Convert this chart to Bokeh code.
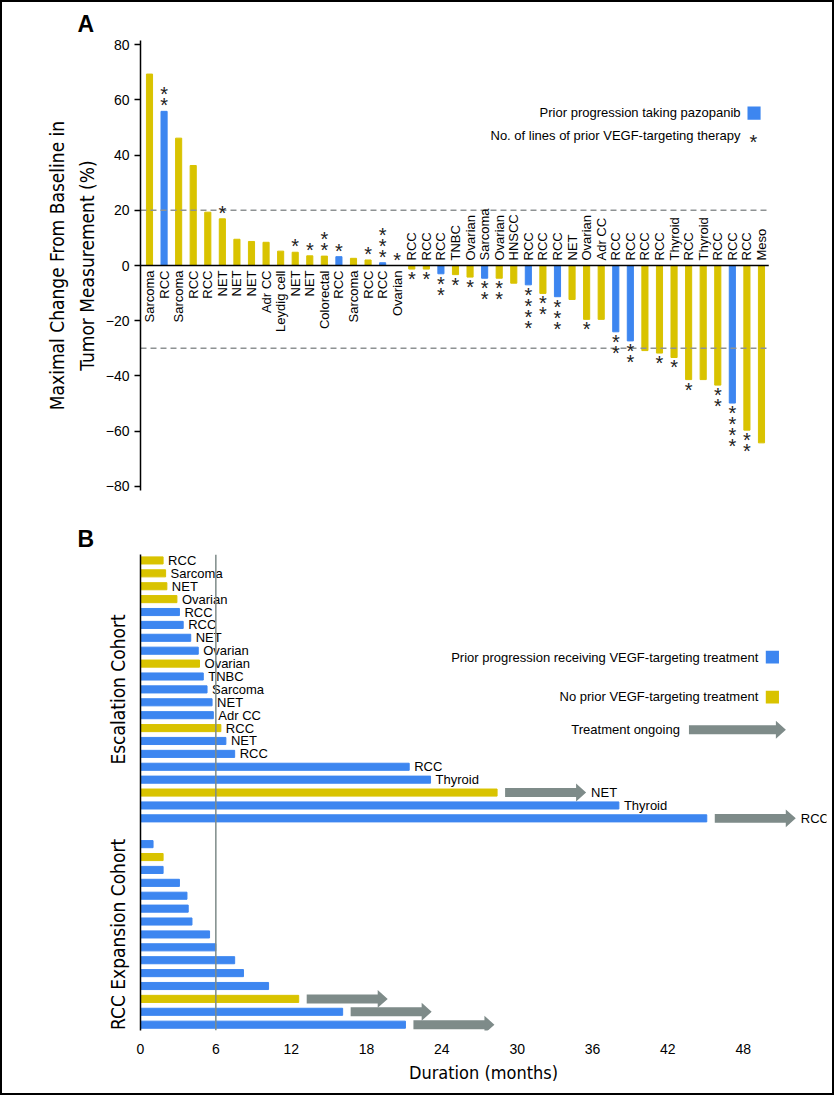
import math
from bokeh.plotting import figure
from bokeh.models import (ColumnDataSource, Range1d, Span, Label, BoxAnnotation,
                          PolyAnnotation, FixedTicker)
from bokeh.layouts import column
from bokeh.embed import file_html
from bokeh.resources import INLINE
from bokeh.core.properties import value

# ---------------- data: panel A ----------------
a_tumor = ["Sarcoma", "RCC", "Sarcoma", "RCC", "RCC", "NET", "NET", "NET", "Adr CC",
           "Leydig cell", "NET", "NET", "Colorectal", "RCC", "Sarcoma", "RCC", "RCC",
           "Ovarian", "RCC", "RCC", "RCC", "TNBC", "Ovarian", "Sarcoma", "Ovarian",
           "HNSCC", "RCC", "RCC", "RCC", "NET", "Ovarian", "Adr CC", "RCC", "RCC",
           "RCC", "RCC", "Thyroid", "RCC", "Thyroid", "RCC", "RCC", "RCC", "Meso"]
a_change = [69.3, 55.8, 46.1, 36.2, 19.3, 16.9, 9.5, 8.7, 8.4, 5.2, 4.8, 3.5, 3.4,
            3.2, 2.6, 2.0, 1.0, 0.0, -1.3, -1.3, -3.0, -3.3, -4.2, -4.6, -4.6, -6.4,
            -7.0, -10.1, -11.3, -12.3, -19.5, -19.5, -24.0, -27.3, -30.8, -31.7,
            -33.3, -41.3, -41.3, -43.3, -49.8, -59.6, -64.2]
a_prior_pazopanib = [0, 1, 0, 0, 0, 0, 0, 0, 0, 0, 0, 0, 0, 1, 0, 0, 1, 0, 0, 0, 1,
                     0, 0, 1, 0, 0, 1, 0, 1, 0, 0, 0, 1, 1, 0, 0, 0, 0, 0, 0, 1, 0, 0]
a_vegf_lines = [0, 2, 0, 0, 0, 1, 0, 0, 0, 0, 1, 1, 2, 1, 0, 1, 3, 1, 1, 1, 2, 1, 1,
                2, 2, 0, 4, 2, 3, 0, 1, 0, 2, 2, 0, 1, 1, 1, 0, 2, 4, 2, 0]
a_ticks = [-80, -60, -40, -20, 0, 20, 40, 60, 80]
a_ref_lines = [20, -30]

# ---------------- data: panel B ----------------
esc_tumor = ["RCC", "Sarcoma", "NET", "Ovarian", "RCC", "RCC", "NET", "Ovarian",
             "Ovarian", "TNBC", "Sarcoma", "NET", "Adr CC", "RCC", "NET", "RCC",
             "RCC", "Thyroid", "NET", "Thyroid", "RCC"]
esc_months = [1.8, 2.0, 2.1, 2.9, 3.1, 3.4, 4.0, 4.6, 4.7, 5.0, 5.3, 5.7, 5.8, 6.4,
              6.8, 7.5, 21.4, 23.1, 28.4, 38.1, 45.1]
esc_prior_vegf = [0, 0, 0, 0, 1, 1, 1, 1, 0, 1, 1, 1, 1, 0, 1, 1, 1, 1, 0, 1, 1]
esc_ongoing = [0] * 18 + [1, 0, 1]
exp_months = [1.0, 1.8, 1.8, 3.1, 3.7, 3.8, 4.1, 5.5, 6.0, 7.5, 8.2, 10.2, 12.6,
              16.1, 21.1]
exp_prior_vegf = [1, 0, 1, 1, 1, 1, 1, 1, 1, 1, 1, 1, 0, 1, 1]
exp_ongoing = [0] * 12 + [1, 1, 1]
b_ticks = [0, 6, 12, 18, 24, 30, 36, 42, 48]
b_reference_month = 6
cohort_names = ["Escalation Cohort", "RCC Expansion Cohort"]

# ---------------- styling ----------------
YELLOW = "#D9C300"
BLUE = "#3D86F0"
ARROW = "#7E8B89"
DASH = "#8E9293"
SANS_S = "Liberation Sans"
NARROW_S = "DejaVu Sans Condensed"
SANS = value(SANS_S)
OFF = 2            # width of the outer frame line
W = 834 - 2 * OFF
FRAME_L, FRAME_R = 140, 826

# ================= Panel A =================
A_H = 520 - OFF
bar_px = 14.571
ax0 = (FRAME_L - 149) / bar_px
ax1 = (FRAME_R - 149) / bar_px
ay0, ay1 = -81.45, 81.45
pA = figure(width=W, height=A_H, x_range=Range1d(ax0, ax1), y_range=Range1d(ay0, ay1),
            output_backend="svg", toolbar_location=None,
            min_border_left=FRAME_L - OFF, min_border_right=W - (FRAME_R - OFF),
            min_border_top=40 - OFF, min_border_bottom=A_H - (490 - OFF))
pA.xaxis.visible = False
pA.grid.visible = False
pA.outline_line_color = None
pA.title.text = "A"
pA.title.align = "left"
pA.title.offset = -63
pA.title.standoff = 8
pA.title.text_font = SANS_S
pA.title.text_font_size = "23px"
pA.title.text_font_style = "bold"
pA.title.text_color = "black"

ya = pA.yaxis[0]
ya.ticker = FixedTicker(ticks=a_ticks)
ya.axis_line_color = "black"
ya.axis_line_width = 1.5
ya.major_tick_line_color = "black"
ya.major_tick_line_width = 1.5
ya.major_tick_out = 6
ya.major_tick_in = 0
ya.minor_tick_line_color = None
ya.major_label_text_font = SANS_S
ya.major_label_text_font_size = "14px"
ya.major_label_text_color = "black"
ya.major_label_standoff = 5
ya.axis_label = "Maximal Change From Baseline in\nTumor Measurement (%)"
ya.axis_label_text_font = NARROW_S
ya.axis_label_text_font_size = "19px"
ya.axis_label_text_font_style = "normal"
ya.axis_label_text_color = "black"
ya.axis_label_text_line_height = 1.35
ya.axis_label_standoff = 5

n_a = len(a_change)
idx = list(range(n_a))
srcA = ColumnDataSource(dict(x=idx, v=a_change,
                             color=[BLUE if b else YELLOW for b in a_prior_pazopanib]))
pA.vbar(x="x", top="v", bottom=0, width=0.42, color="color", source=srcA)

# reference lines span the bar area only
line_end = n_a - 0.5
for lv in a_ref_lines:
    pA.segment(x0=ax0, x1=line_end, y0=lv, y1=lv, line_color=DASH,
               line_dash="6 4", line_width=1.5)
pA.segment(x0=ax0, x1=line_end, y0=0, y1=0, line_color="black", line_width=1.5)

pos = [i for i in idx if a_change[i] >= 0]
neg = [i for i in idx if a_change[i] < 0]
src_pos = ColumnDataSource(dict(x=pos, y=[0] * len(pos), t=[a_tumor[i] for i in pos]))
src_neg = ColumnDataSource(dict(x=neg, y=[0] * len(neg), t=[a_tumor[i] for i in neg]))
pA.text(x="x", y="y", text="t", source=src_pos, angle=math.pi / 2, text_align="right",
        text_baseline="middle", y_offset=5, text_font=SANS, text_font_size="13px",
        text_color="black")
pA.text(x="x", y="y", text="t", source=src_neg, angle=math.pi / 2, text_align="left",
        text_baseline="middle", y_offset=-5, text_font=SANS, text_font_size="13px",
        text_color="black")

# asterisks (number of prior VEGF lines)
sx, sy, soff = [], [], []
for i in idx:
    for k in range(a_vegf_lines[i]):
        sx.append(i)
        sy.append(a_change[i])
        d = 8 + 11 * k
        soff.append((-d if a_change[i] >= 0 else d) + 2)
srcS = ColumnDataSource(dict(x=sx, y=sy, off=soff, t=["*"] * len(sx)))
pA.text(x="x", y="y", text="t", y_offset="off", source=srcS, text_align="center",
        text_baseline="middle", text_font=SANS, text_font_size="20px", text_color="#222222")

# legend A
pA.add_layout(Label(x=40.56, y=55.3, text="Prior progression taking pazopanib",
                    text_align="right", text_baseline="middle", text_font=SANS_S,
                    text_font_size="13px", text_color="black"))
pA.add_layout(BoxAnnotation(left=41.04, right=41.94, top=57.6, bottom=52.8,
                            fill_color=BLUE, fill_alpha=1, line_alpha=0))
pA.add_layout(Label(x=40.56, y=46.9, text="No. of lines of prior VEGF-targeting therapy",
                    text_align="right", text_baseline="middle", text_font=SANS_S,
                    text_font_size="13px", text_color="black"))
pA.add_layout(Label(x=41.45, y=44.8, text="*", text_align="center",
                    text_baseline="middle", text_font=SANS_S, text_font_size="20px",
                    text_color="#222222"))

# ================= Panel B =================
B_H = 1095 - OFF - 520
month_px = 12.556
bx0 = 0.0
bx1 = (FRAME_R - FRAME_L) / month_px
by_bottom, by_top = 36.45, -0.46
pB = figure(width=W, height=B_H, x_range=Range1d(bx0, bx1),
            y_range=Range1d(by_bottom, by_top),
            output_backend="svg", toolbar_location=None,
            min_border_left=FRAME_L - OFF, min_border_right=W - (FRAME_R - OFF),
            min_border_top=552 - 520, min_border_bottom=B_H - (1030 - 520))
pB.grid.visible = False
pB.outline_line_color = None
pB.title.text = "B"
pB.title.align = "left"
pB.title.offset = -63
pB.title.standoff = 6
pB.title.text_font = SANS_S
pB.title.text_font_size = "23px"
pB.title.text_font_style = "bold"
pB.title.text_color = "black"
frame_h = 1030 - 552
row_px = frame_h / (by_bottom - by_top)

xb = pB.xaxis[0]
xb.ticker = FixedTicker(ticks=b_ticks)
xb.axis_line_color = None
xb.major_tick_line_color = None
xb.minor_tick_line_color = None
xb.major_label_text_font = SANS_S
xb.major_label_text_font_size = "14px"
xb.major_label_text_color = "black"
xb.major_label_standoff = 7
xb.axis_label = "Duration (months)"
xb.axis_label_text_font = NARROW_S
xb.axis_label_text_font_size = "18px"
xb.axis_label_text_font_style = "normal"
xb.axis_label_text_color = "black"
xb.axis_label_standoff = 5

esc_rows = list(range(len(esc_months)))
exp_rows = [len(esc_months) + 1 + k for k in range(len(exp_months))]
cohort_centers = [sum(esc_rows) / len(esc_rows), sum(exp_rows) / len(exp_rows)]

yb = pB.yaxis[0]
yb.ticker = FixedTicker(ticks=cohort_centers)
yb.major_label_overrides = {c: n for c, n in zip(cohort_centers, cohort_names)}
yb.major_label_orientation = "parallel"
yb.major_label_text_font = NARROW_S
yb.major_label_text_font_size = "19px"
yb.major_label_text_color = "black"
yb.major_label_standoff = 5
yb.axis_line_color = "black"
yb.axis_line_width = 1.5
yb.major_tick_line_color = None
yb.minor_tick_line_color = None

rows = esc_rows + exp_rows
months = esc_months + exp_months
prior = esc_prior_vegf + exp_prior_vegf
ongoing = esc_ongoing + exp_ongoing
srcB = ColumnDataSource(dict(y=rows, r=months,
                             color=[BLUE if b else YELLOW for b in prior]))
pB.hbar(y="y", right="r", left=0, height=0.55, color="color", source=srcB)

# ongoing-treatment arrows, derived from bar ends
gap_m = 8 / month_px
len_m = 81 / month_px
head_m = 10 / month_px
hs = 4.5 / row_px
hh = 9 / row_px
axs, ays, label_end = [], [], []
for r, m, o in zip(rows, months, ongoing):
    if o:
        x0 = m + gap_m
        x1 = x0 + len_m
        axs.append([x0, x1 - head_m, x1 - head_m, x1, x1 - head_m, x1 - head_m, x0])
        ays.append([r - hs, r - hs, r - hh, r, r + hh, r + hs, r + hs])
        label_end.append(x1)
    else:
        label_end.append(m)
pB.patches(xs=axs, ys=ays, fill_color=ARROW, line_color=None)

n_esc = len(esc_months)
srcL = ColumnDataSource(dict(x=label_end[:n_esc], y=esc_rows, t=esc_tumor))
pB.text(x="x", y="y", text="t", source=srcL, x_offset=5, text_align="left",
        text_baseline="middle", text_font=SANS, text_font_size="13px",
        text_color="black")

pB.add_layout(Span(location=b_reference_month, dimension="height", line_color=ARROW,
                   line_width=1.5))

# legend B
def leg_text(x, y, t):
    pB.add_layout(Label(x=x, y=y, text=t, text_align="right", text_baseline="middle",
                        text_font=SANS_S, text_font_size="13px", text_color="black"))

leg_text(49.2, 7.49, "Prior progression receiving VEGF-targeting treatment")
pB.add_layout(BoxAnnotation(left=49.8, right=50.85, top=7.0, bottom=8.0,
                            fill_color=BLUE, fill_alpha=1, line_alpha=0))
leg_text(49.2, 10.58, "No prior VEGF-targeting treatment")
pB.add_layout(BoxAnnotation(left=49.8, right=50.85, top=10.1, bottom=11.1,
                            fill_color=YELLOW, fill_alpha=1, line_alpha=0))
leg_text(42.96, 13.13, "Treatment ongoing")
lx0, lx1, ly = 43.68, 51.4, 13.13
pB.add_layout(PolyAnnotation(
    xs=[lx0, lx1 - head_m, lx1 - head_m, lx1, lx1 - head_m, lx1 - head_m, lx0],
    ys=[ly - hs, ly - hs, ly - hh, ly, ly + hh, ly + hs, ly + hs],
    fill_color=ARROW, fill_alpha=1, line_alpha=0))

layout = column(pA, pB, spacing=0,
                styles={"border": f"{OFF}px solid black", "box-sizing": "content-box"})
open("out.html", "w").write(file_html(layout, INLINE))
